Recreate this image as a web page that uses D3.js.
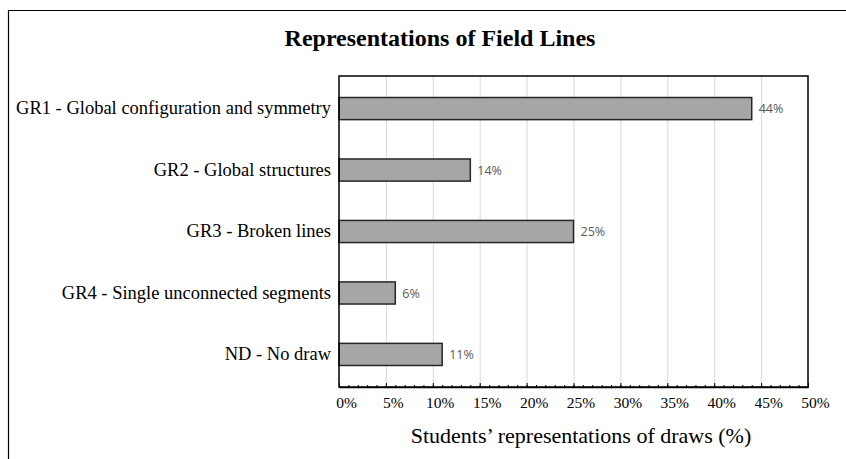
<!DOCTYPE html>
<html>
<head>
<meta charset="utf-8">
<script src="https://cdn.jsdelivr.net/npm/d3@7"></script>
<style>
  body { margin: 0; background: #fff; }
</style>
</head>
<body>
<div id="chart"></div>
<script>
const categories = [
    "GR1 - Global configuration and symmetry",
    "GR2 - Global structures",
    "GR3 - Broken lines",
    "GR4 - Single unconnected segments",
    "ND - No draw"
];
const values = [44, 14, 25, 6, 11];
const xTicks = [0, 5, 10, 15, 20, 25, 30, 35, 40, 45, 50];
const minorTicks = d3.range(0, 51, 1);

const serif = "'Liberation Serif', 'Times New Roman', serif";

const svg = d3.select("#chart")
    .append("svg")
    .attr("width", 846)
    .attr("height", 459);

// outer frame (top and left edges only)
svg.append("path")
    .attr("d", "M8.5,459 L8.5,10.5 L846,10.5")
    .attr("fill", "none")
    .attr("stroke", "#000")
    .attr("stroke-width", 1.2);

svg.append("text")
    .attr("x", 440)
    .attr("y", 46)
    .attr("text-anchor", "middle")
    .style("font-family", serif)
    .style("font-weight", "bold")
    .style("font-size", "24px")
    .text("Representations of Field Lines");

const plotLeft = 339, plotTop = 76, plotRight = 808, plotBottom = 387;

const x = d3.scaleLinear()
    .domain([0, 50])
    .range([plotLeft, plotRight]);

const y = d3.scaleBand()
    .domain(categories)
    .range([plotTop, plotBottom])
    .paddingInner(0.64)
    .paddingOuter(0.35);

// gridlines
svg.append("g")
    .selectAll("line")
    .data(xTicks.slice(1, -1))
    .enter()
    .append("line")
    .attr("x1", d => x(d) + 0.5)
    .attr("x2", d => x(d) + 0.5)
    .attr("y1", plotTop)
    .attr("y2", plotBottom)
    .attr("stroke", "#d9d9d9")
    .attr("stroke-width", 1);

// bars
svg.selectAll(".bar")
    .data(values)
    .enter()
    .append("rect")
    .attr("class", "bar")
    .attr("x", x(0))
    .attr("y", (d, i) => y(categories[i]))
    .attr("width", d => x(d) - x(0))
    .attr("height", y.bandwidth())
    .attr("fill", "#a6a6a6")
    .attr("stroke", "#262626")
    .attr("stroke-width", 1.5);

// value labels
svg.selectAll(".val")
    .data(values)
    .enter()
    .append("text")
    .attr("class", "val")
    .attr("x", d => x(d) + 7)
    .attr("y", (d, i) => y(categories[i]) + y.bandwidth() / 2)
    .attr("dy", "0.38em")
    .style("font-family", "'Open Sans', 'DejaVu Sans', sans-serif")
    .style("font-size", "12.5px")
    .style("fill", "#595959")
    .text(d => d + "%");

// plot frame
svg.append("rect")
    .attr("x", plotLeft)
    .attr("y", plotTop)
    .attr("width", plotRight - plotLeft)
    .attr("height", plotBottom - plotTop)
    .attr("fill", "none")
    .attr("stroke", "#000")
    .attr("stroke-width", 1.5);

// minor ticks (inside)
svg.append("g")
    .attr("transform", `translate(0,${plotBottom})`)
    .call(d3.axisBottom(x).tickValues(minorTicks).tickSize(-2).tickFormat(""))
    .call(g => g.select(".domain").remove())
    .selectAll("line").attr("stroke", "#000");

// major ticks and labels
const xAxis = svg.append("g")
    .attr("transform", `translate(0,${plotBottom})`)
    .call(d3.axisBottom(x).tickValues(xTicks).tickSizeInner(-4).tickSizeOuter(0).tickPadding(10).tickFormat(d => d + "%"));
xAxis.select(".domain").attr("stroke", "#000").attr("stroke-width", 1.5);
xAxis.selectAll("text")
    .attr("dx", 7)
    .style("font-family", serif)
    .style("font-size", "15.5px")
    .style("fill", "#000");

// category labels
svg.selectAll(".cat")
    .data(categories)
    .enter()
    .append("text")
    .attr("class", "cat")
    .attr("x", 331)
    .attr("y", d => y(d) + y.bandwidth() / 2)
    .attr("dy", "0.3em")
    .attr("text-anchor", "end")
    .style("font-family", serif)
    .style("font-size", "18.5px")
    .text(d => d);

svg.append("text")
    .attr("x", 581)
    .attr("y", 443)
    .attr("text-anchor", "middle")
    .style("font-family", serif)
    .style("font-size", "22px")
    .text("Students\u2019 representations of draws (%)");
</script>
</body>
</html>
